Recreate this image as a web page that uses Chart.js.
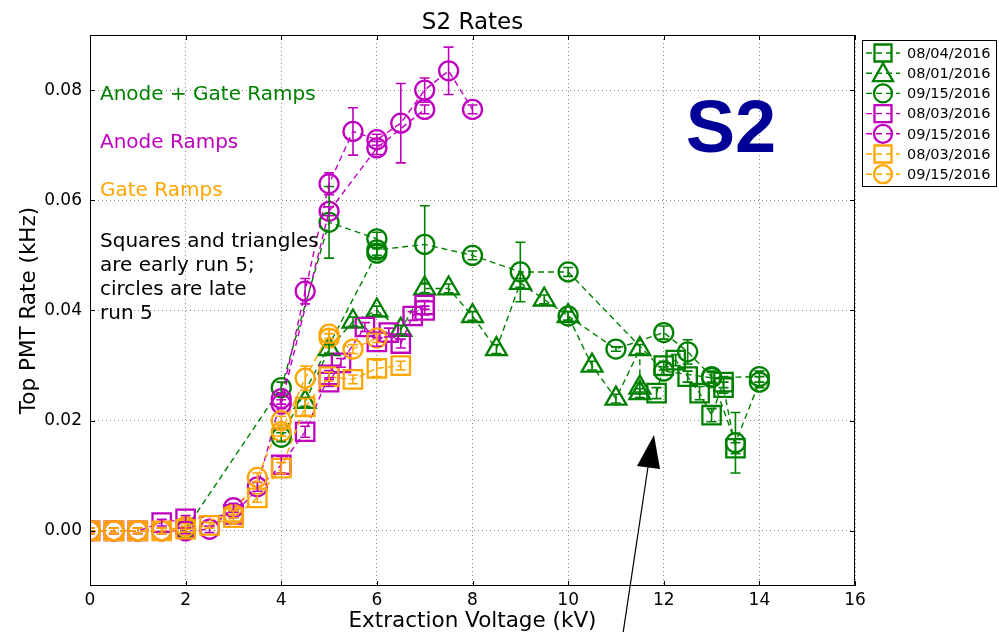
<!DOCTYPE html>
<html>
<head>
<meta charset="utf-8">
<title>S2 Rates</title>
<script src="https://cdn.jsdelivr.net/npm/chart.js@4.4.0/dist/chart.umd.min.js"></script>
<style>
    html, body { margin: 0; padding: 0; background: #fff; }
    #wrap { width: 999px; height: 632px; }
</style>
</head>
<body>
<div id="wrap"><canvas id="s2-chart" width="999" height="632"></canvas></div>
<script>
// S2 rates - top PMT rate (kHz) vs extraction voltage (kV)
// null = break in the dashed line (separate ramp)

const xTicks = [0, 2, 4, 6, 8, 10, 12, 14, 16];
const yTicks = [0.00, 0.02, 0.04, 0.06, 0.08];

// Anode + Gate ramps, 08/04/2016 (squares)
const gSqV    = [11.85, 12, 12.25, 12.5, 12.75, 13, 13.25, 13.25, 13.5];
const gSqRate = [0.025, 0.030, 0.031, 0.028, 0.025, 0.021, 0.027, 0.026, 0.015];
const gSqErr  = [0.001, 0.0008, 0.001, 0.001, 0.0012, 0.0012, 0.001, 0.001, 0.001];

// Anode + Gate ramps, 08/01/2016 (triangles)
const gTrV    = [4.5, 5, 5.5, 6, 6.5, 7, 7.5, 8, 8.5, 9, 9.5, 10, 10.5, 11, 11.5, 11.5, 11.5];
const gTrRate = [0.0234, 0.033, 0.038, 0.040, 0.0365, 0.044, 0.044, 0.039, 0.033, 0.045, 0.042, 0.039, 0.030, 0.024, 0.033, 0.026, 0.025];
const gTrErr  = [0.0008, 0.0008, 0.0008, 0.0008, 0.0008, 0.0008, 0.0008, 0.0008, 0.0008, 0.0008, 0.0008, 0.0008, 0.0008, 0.0008, 0.0008, 0.0008, 0.0008];

// Anode + Gate ramps, 09/15/2016 (circles)
const gCiV    = [2, 4, 5, 6, 6, 7, 8, 9, 10, 12, 13, 14, null, 4, 6, null, 10, 11, 12, 12.5, 13, 13.5, 14];
const gCiRate = [0.0003, 0.026, 0.056, 0.053, 0.051, 0.052, 0.050, 0.047, 0.047, 0.029, 0.0278, 0.028, null,
                 0.017, 0.0504, null, 0.039, 0.033, 0.036, 0.0325, 0.028, 0.016, 0.027];
const gCiErr  = [0.0005, 0.001, 0.0065, 0.0012, 0.001, 0.007, 0.0008, 0.0054, 0.0008, 0.0008, 0.001, 0.001, null,
                 0.0008, 0.0008, null, 0.0008, 0.0004, 0.0012, 0.0022, 0.001, 0.0055, 0.001];

// Anode ramps, 08/03/2016 (squares)
const mSqV    = [0, 0.5, 1, 1.5, 2, 3, 4, 4.5, 5, 5, 5.25, 5.75, 6, 6.25, 6.5, 6.75, 7, 7];
const mSqRate = [0, 0, 0, 0.0015, 0.0022, 0.003, 0.012, 0.018, 0.0283, 0.027, 0.0305, 0.037, 0.0343, 0.036, 0.034, 0.039, 0.041, 0.040];
const mSqErr  = [0.0005, 0.0005, 0.0005, 0.0006, 0.0006, 0.0006, 0.0015, 0.001, 0.0008, 0.0008, 0.0008, 0.0008, 0.0008, 0.0008, 0.0008, 0.0008, 0.0008, 0.0008];

// Anode ramps, 09/15/2016 (circles)
const mCiV    = [0, 0.5, 1, 1.5, 2, 2.5, 3, 3.5, 4, 4.5, 5, 5.5, 6, 6.5, 7, 7.5, 8, null, 4, 5, 6, 7];
const mCiRate = [0, 0, 0, 0, 0, 0.0003, 0.0042, 0.008, 0.024, 0.0435, 0.063, 0.0725, 0.071, 0.074, 0.080, 0.0835, 0.0765, null,
                 0.023, 0.058, 0.0695, 0.0765];
const mCiErr  = [0.0005, 0.0005, 0.0005, 0.0005, 0.0005, 0.0006, 0.0008, 0.0008, 0.001, 0.0023, 0.002, 0.0043, 0.001, 0.0072, 0.0022, 0.0043, 0.0008, null,
                 0.0008, 0.0008, 0.0012, 0.0008];

// Gate ramps, 08/03/2016 (squares)
const oSqV    = [0, 0.5, 1, 1.5, 2, 2.5, 3, 3.5, 4, 4.5, 5, 5.5, 6, 6.5];
const oSqRate = [0, 0, 0, 0, 0.0003, 0.001, 0.0024, 0.006, 0.0114, 0.0225, 0.028, 0.0275, 0.0295, 0.030];
const oSqErr  = [0.0005, 0.0005, 0.0005, 0.0005, 0.0005, 0.0005, 0.0006, 0.0008, 0.001, 0.0015, 0.0008, 0.0008, 0.0015, 0.0008];

// Gate ramps, 09/15/2016 (circles)
const oCiV    = [0, 0.5, 1, 1.5, 2, 3, 3.5, 4, 4, 4.5, 5, 5, 5.5, 6];
const oCiRate = [0, 0, 0, 0, 0.0008, 0.003, 0.0097, 0.020, 0.018, 0.0277, 0.0357, 0.035, 0.033, 0.035];
const oCiErr  = [0.0005, 0.0005, 0.0005, 0.0005, 0.0005, 0.0006, 0.0008, 0.0008, 0.0008, 0.0022, 0.0008, 0.0008, 0.0008, 0.0008];

const GREEN = '#008000';
const MAGENTA = '#bf00bf';
const ORANGE = '#ffa500';
const FONT = 'DejaVu Sans';

function points(v, rate) {
    return v.map((x, i) => ({ x: x, y: rate[i] }));
}

function series(label, v, rate, err, color, style, order) {
    const radius = style === 'circle' ? 9.5 : (style === 'rect' ? 13 : 12);
    return {
        label: label,
        data: points(v, rate),
        errors: err,
        showLine: true,
        spanGaps: false,
        borderColor: color,
        backgroundColor: 'rgba(0,0,0,0)',
        borderWidth: 1.4,
        borderDash: [6, 4],
        pointStyle: style,
        pointRadius: radius,
        pointHoverRadius: radius,
        pointBorderColor: color,
        pointBackgroundColor: 'rgba(0,0,0,0)',
        pointBorderWidth: 2.3,
        order: order
    };
}

const datasets = [
    series('08/04/2016', gSqV, gSqRate, gSqErr, GREEN, 'rect', 7),
    series('08/01/2016', gTrV, gTrRate, gTrErr, GREEN, 'triangle', 6),
    series('09/15/2016', gCiV, gCiRate, gCiErr, GREEN, 'circle', 5),
    series('08/03/2016', mSqV, mSqRate, mSqErr, MAGENTA, 'rect', 4),
    series('09/15/2016', mCiV, mCiRate, mCiErr, MAGENTA, 'circle', 3),
    series('08/03/2016', oSqV, oSqRate, oSqErr, ORANGE, 'rect', 2),
    series('09/15/2016', oCiV, oCiRate, oCiErr, ORANGE, 'circle', 1)
];

// vertical error bars with small caps
const errorBars = {
    id: 'errorBars',
    afterDatasetsDraw(chart) {
        const ctx = chart.ctx;
        const yScale = chart.scales.y;
        const area = chart.chartArea;
        ctx.save();
        ctx.beginPath();
        ctx.rect(area.left, area.top, area.right - area.left, area.bottom - area.top);
        ctx.clip();
        chart.data.datasets.forEach((ds, di) => {
            const meta = chart.getDatasetMeta(di);
            ctx.strokeStyle = ds.borderColor;
            ctx.lineWidth = 1.6;
            meta.data.forEach((pt, i) => {
                const d = ds.data[i];
                const e = ds.errors[i];
                if (d.y === null || d.x === null || !e) return;
                const top = yScale.getPixelForValue(d.y + e);
                const bot = yScale.getPixelForValue(d.y - e);
                ctx.beginPath();
                ctx.moveTo(pt.x, top); ctx.lineTo(pt.x, bot);
                ctx.moveTo(pt.x - 5, top); ctx.lineTo(pt.x + 5, top);
                ctx.moveTo(pt.x - 5, bot); ctx.lineTo(pt.x + 5, bot);
                ctx.stroke();
            });
        });
        ctx.restore();
    }
};

function drawMarker(ctx, style, x, y, color) {
    ctx.strokeStyle = color;
    ctx.lineWidth = 2.3;
    ctx.setLineDash([]);
    ctx.beginPath();
    if (style === 'circle') {
        ctx.arc(x, y, 9, 0, Math.PI * 2);
    } else if (style === 'rect') {
        ctx.rect(x - 8.5, y - 8.5, 17, 17);
    } else {
        ctx.moveTo(x, y - 10);
        ctx.lineTo(x - 10, y + 8);
        ctx.lineTo(x + 10, y + 8);
        ctx.closePath();
    }
    ctx.stroke();
}

// frame, title, labels, notes, arrow and legend
const decorations = {
    id: 'decorations',
    beforeDraw(chart) {
        const ctx = chart.ctx;
        ctx.save();
        ctx.fillStyle = '#fff';
        ctx.fillRect(0, 0, chart.width, chart.height);
        ctx.restore();
    },
    afterDraw(chart) {
        const ctx = chart.ctx;
        const a = chart.chartArea;
        const xs = chart.scales.x;
        const ys = chart.scales.y;
        ctx.save();

        // frame + inward ticks
        ctx.strokeStyle = '#000';
        ctx.lineWidth = 1;
        ctx.strokeRect(a.left + 0.5, a.top + 0.5, a.right - a.left - 1, a.bottom - a.top - 1);
        ctx.beginPath();
        xTicks.forEach(v => {
            const px = Math.round(xs.getPixelForValue(v)) + 0.5;
            ctx.moveTo(px, a.bottom); ctx.lineTo(px, a.bottom - 5);
            ctx.moveTo(px, a.top); ctx.lineTo(px, a.top + 5);
        });
        yTicks.forEach(v => {
            const py = Math.round(ys.getPixelForValue(v)) + 0.5;
            ctx.moveTo(a.left, py); ctx.lineTo(a.left + 5, py);
            ctx.moveTo(a.right, py); ctx.lineTo(a.right - 5, py);
        });
        ctx.stroke();

        // title and axis labels
        const midX = (a.left + a.right) / 2;
        ctx.fillStyle = '#000';
        ctx.textAlign = 'center';
        ctx.textBaseline = 'alphabetic';
        ctx.font = '23px "' + FONT + '"';
        ctx.fillText('S2 Rates', midX, 29);
        ctx.font = '21.5px "' + FONT + '"';
        ctx.fillText('Extraction Voltage (kV)', midX, 627);
        ctx.save();
        ctx.translate(35, (a.top + a.bottom) / 2);
        ctx.rotate(-Math.PI / 2);
        ctx.fillText('Top PMT Rate (kHz)', 0, 0);
        ctx.restore();

        // notes
        ctx.textAlign = 'left';
        ctx.font = '20px "' + FONT + '"';
        ctx.fillStyle = GREEN;
        ctx.fillText('Anode + Gate Ramps', 100, 100);
        ctx.fillStyle = MAGENTA;
        ctx.fillText('Anode Ramps', 100, 148);
        ctx.fillStyle = ORANGE;
        ctx.fillText('Gate Ramps', 100, 196);
        ctx.fillStyle = '#000';
        ['Squares and triangles', 'are early run 5;', 'circles are late', 'run 5'].forEach((t, i) => {
            ctx.fillText(t, 100, 247 + i * 24);
        });

        // big S2 label
        ctx.fillStyle = '#000099';
        ctx.font = 'bold 74px "Liberation Sans"';
        ctx.textAlign = 'center';
        ctx.fillText('S2', 731, 152);

        // arrow
        ctx.strokeStyle = '#000';
        ctx.lineWidth = 1.2;
        ctx.beginPath();
        ctx.moveTo(622, 640);
        ctx.lineTo(648, 467);
        ctx.stroke();
        ctx.fillStyle = '#000';
        ctx.beginPath();
        ctx.moveTo(654, 435);
        ctx.lineTo(637, 466);
        ctx.lineTo(660, 469);
        ctx.closePath();
        ctx.fill();

        // legend
        const lx = 862.5, ly = 40.5, lw = 134, lh = 146;
        ctx.fillStyle = '#fff';
        ctx.fillRect(lx, ly, lw, lh);
        ctx.strokeStyle = '#000';
        ctx.lineWidth = 1;
        ctx.strokeRect(lx, ly, lw, lh);
        ctx.font = '14.5px "' + FONT + '"';
        ctx.textAlign = 'left';
        ctx.textBaseline = 'middle';
        chart.data.datasets.forEach((ds, i) => {
            const cy = 53 + i * 20.2;
            ctx.strokeStyle = ds.borderColor;
            ctx.lineWidth = 1.4;
            ctx.setLineDash([6, 4]);
            ctx.beginPath();
            ctx.moveTo(866, cy);
            ctx.lineTo(900, cy);
            ctx.stroke();
            drawMarker(ctx, ds.pointStyle, 883, cy, ds.borderColor);
            ctx.fillStyle = '#000';
            ctx.fillText(ds.label, 907, cy + 1);
        });

        ctx.restore();
    }
};

const ctx = document.getElementById('s2-chart').getContext('2d');
new Chart(ctx, {
    type: 'scatter',
    data: { datasets: datasets },
    options: {
        responsive: false,
        animation: false,
        layout: { padding: { left: 0, right: 144, top: 35, bottom: 0 } },
        plugins: {
            legend: { display: false },
            title: { display: false },
            tooltip: { enabled: false }
        },
        scales: {
            x: {
                type: 'linear',
                min: 0,
                max: 16,
                afterFit: scale => { scale.height = 46; },
                afterBuildTicks: scale => { scale.ticks = xTicks.map(v => ({ value: v })); },
                ticks: {
                    color: '#000',
                    font: { family: FONT, size: 17 },
                    padding: 4,
                    maxRotation: 0,
                    callback: v => String(v)
                },
                grid: { color: '#888', lineWidth: 1, drawTicks: false },
                border: { display: false, dash: [1, 3] }
            },
            y: {
                type: 'linear',
                min: -0.01,
                max: 0.09,
                afterFit: scale => { scale.width = 90; },
                afterBuildTicks: scale => { scale.ticks = yTicks.map(v => ({ value: v })); },
                ticks: {
                    color: '#000',
                    font: { family: FONT, size: 17 },
                    padding: 8,
                    callback: v => v.toFixed(2)
                },
                grid: { color: '#888', lineWidth: 1, drawTicks: false },
                border: { display: false, dash: [1, 3] }
            }
        }
    },
    plugins: [errorBars, decorations]
});
</script>
</body>
</html>
